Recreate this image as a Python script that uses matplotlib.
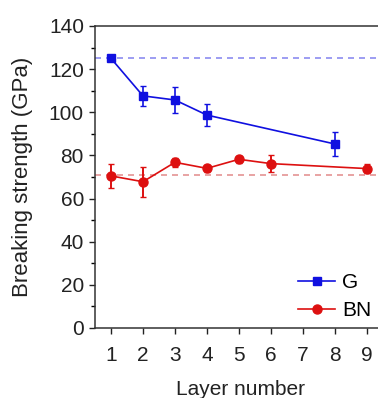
import matplotlib
matplotlib.use("Agg")
import matplotlib.pyplot as plt
from matplotlib.ticker import MultipleLocator

plt.rcParams['font.family'] = ['Liberation Sans', 'DejaVu Sans']

# graphene
g_layers = [1, 2, 3, 4, 8]
g_strength = [125, 107.6, 105.7, 98.7, 85.3]
g_err = [0, 4.5, 6, 5, 5.5]

# boron nitride
bn_layers = [1, 2, 3, 4, 5, 6, 9]
bn_strength = [70.5, 67.8, 76.8, 74, 78.2, 76.2, 73.9]
bn_err = [5.6, 7, 2, 1.5, 1.5, 4, 2]

# monolayer reference levels
g_ref = 125
bn_ref = 71

blue = '#1010e0'
red = '#dd1010'

fig = plt.figure(figsize=(3.78, 3.98), dpi=100)
ax = fig.add_axes([0.2513, 0.1759, 0.77, 0.7588])

ax.axhline(g_ref, color='#8c8cf0', ls=(0, (3.6, 3.0)), lw=1.2, zorder=1)
ax.axhline(bn_ref, color='#e49494', ls=(0, (3.6, 3.0)), lw=1.2, zorder=1)

g_line = ax.errorbar(g_layers, g_strength, yerr=g_err, color=blue, marker='s', ms=6,
                     lw=1.2, capsize=2.5, elinewidth=1.2, zorder=3)
bn_line = ax.errorbar(bn_layers, bn_strength, yerr=bn_err, color=red, marker='o', ms=6.5,
                      lw=1.2, capsize=2.5, elinewidth=1.4, zorder=3)

ax.set_xlim(0.5, 9.6)
ax.set_ylim(0, 140)
ax.set_xticks(range(1, 10))
ax.yaxis.set_major_locator(MultipleLocator(20))
ax.yaxis.set_minor_locator(MultipleLocator(10))
ax.tick_params(labelsize=15, length=4.5, width=1, direction='out', colors='#222222')
ax.tick_params(axis='x', pad=8.5)
ax.tick_params(which='minor', length=3, width=1)
for s in ax.spines.values():
    s.set_linewidth(1.1)
    s.set_color('#333333')

ax.set_xlabel('Layer number', fontsize=15, labelpad=11, color='#222222')
ax.set_ylabel('Breaking strength (GPa)', fontsize=16, labelpad=11, color='#222222')

ax.legend([g_line[0], bn_line[0]], ['G', 'BN'], loc='upper left',
          bbox_to_anchor=(298 / 378, 1 - 273 / 398), bbox_transform=fig.transFigure,
          frameon=False, fontsize=15, handlelength=1.78, handletextpad=0.34,
          labelspacing=0.45, borderaxespad=0, borderpad=0)

fig.savefig('out.png', dpi=100)
